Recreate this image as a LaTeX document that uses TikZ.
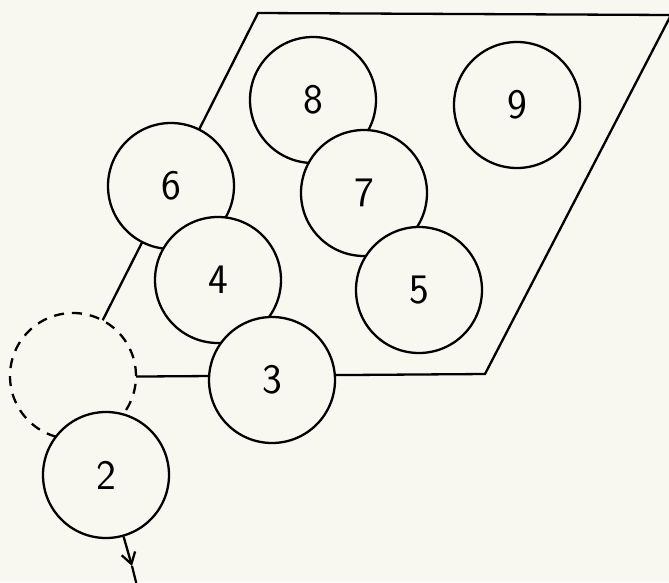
\documentclass[tikz,border=0pt]{standalone}
\usepackage{tikz}
\usetikzlibrary{arrows.meta}
\definecolor{paper}{RGB}{248,247,240}

\begin{document}
\begin{tikzpicture}[
  x=1pt, y=-1pt,
  line width=2.3pt,
  every node/.style={font=\sffamily\fontsize{42}{42}\selectfont},
  ball/.style={draw, circle, fill=paper, minimum size=126pt, inner sep=0pt},
  ghost/.style={ball, dashed, dash pattern=on 10pt off 8pt},
  arr/.style={-{Straight Barb[length=11pt, width=14pt]}}
]
\fill[paper] (0,0) rectangle (669,582);
\useasboundingbox (0,0) rectangle (669,582);
% tray outline
\coordinate (tl) at (258,13);
\coordinate (tr) at (671,15);
\coordinate (br) at (485,374);
\coordinate (bl) at (74,377);
\draw[line join=miter] (tl) -- (tr) -- (br) -- (bl) -- cycle;
% balls, back to front
\node[ball]  (b8) at (313,100) {8};
\node[ball]  (b9) at (517,105) {9};
\node[ball]  (b6) at (171,186) {6};
\node[ball]  (b7) at (364,193) {7};
\node[ball]  (b4) at (218,280) {4};
\node[ball]  (b5) at (419,290) {5};
\node[ghost] (b1) at (73,376)  {};
\node[ball]  (b3) at (272,380) {3};
\node[ball]  (b2) at (106,475) {2};
% exit
\coordinate (tip) at (132,566);
\coordinate (out) at (137,586);
\draw[arr] (b2) -- (tip);
\draw (tip) -- (out);
\end{tikzpicture}
\end{document}
